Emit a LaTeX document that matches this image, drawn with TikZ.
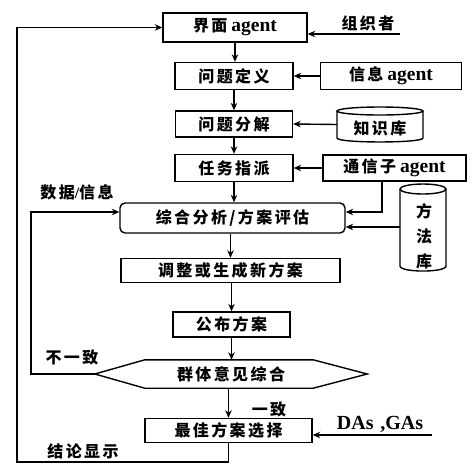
\documentclass[tikz,border=0pt]{standalone}
\usepackage{fontspec}
\setmainfont{Liberation Serif}
\newfontfamily\cjk[LetterSpace=15]{Noto Sans CJK SC}
\usetikzlibrary{arrows.meta}
\newcommand{\zh}[1]{{\cjk\bfseries #1}}
\newcommand{\ag}{{\fontsize{19.5}{19.5}\selectfont\bfseries agent}}
\tikzset{
  box/.style={draw, line width=1.4pt, inner sep=0pt, font=\fontsize{16}{16}\selectfont\bfseries},
  lbl/.style={inner sep=0pt, font=\fontsize{16}{16}\selectfont\bfseries},
  conn/.style={line width=1.4pt, -{Stealth[length=7.5pt,width=6.5pt]}},
  plain/.style={line width=1.4pt},
}
\begin{document}
\begin{tikzpicture}[x=1pt,y=-1pt]
\useasboundingbox (0,0) rectangle (474,464);
% main column
\node[box, minimum width=144pt, minimum height=29pt] (b1) at (235,27.5) {\zh{界面} \ag};
\node[box, minimum width=118pt, minimum height=27pt] (b2) at (234,76) {\zh{问题定义}};
\node[box, minimum width=117pt, minimum height=26pt] (b3) at (234,124) {\zh{问题分解}};
\node[box, minimum width=118pt, minimum height=27pt] (b4) at (234,168) {\zh{任务指派}};
\node[box, rounded corners=5pt, minimum width=225pt, minimum height=30pt] (b5) at (232.5,218) {\zh{综合分析/方案评估}};
\node[box, minimum width=219pt, minimum height=24pt] (b6) at (230.5,270.5) {\zh{调整或生成新方案}};
\node[box, minimum width=117pt, minimum height=25pt] (b7) at (231.5,324.5) {\zh{公布方案}};
\node[lbl, minimum width=272pt, minimum height=28pt] (hex) at (231,374) {\zh{群体意见综合}};
\draw[plain] (hex.west) -- ([xshift=50pt]hex.north west) -- ([xshift=-54pt]hex.north east)
  -- (hex.east) -- ([xshift=-54pt]hex.south east) -- ([xshift=50pt]hex.south west) -- cycle;
\node[box, minimum width=167pt, minimum height=24pt] (b8) at (228.5,430.5) {\zh{最佳方案选择}};
% side boxes
\node[box, minimum width=141pt, minimum height=27pt] (info) at (391,76) {\zh{信息} \ag};
\node[box, minimum width=143pt, minimum height=26pt] (comm) at (394.5,168) {\zh{通信子} \ag};
% knowledge cylinder
\draw[plain] (380,111) ellipse [x radius=43pt, y radius=4pt];
\draw[plain] (337,111) -- (337,138) .. controls (337,143.3) and (423,143.3) .. (423,138) -- (423,111);
\node[lbl, minimum width=86pt, minimum height=35pt] (kb) at (380,124.5) {};
\node[lbl] at (380,128) {\zh{知识库}};
% method cylinder
\draw[plain] (423,189) ellipse [x radius=23pt, y radius=5pt];
\draw[plain] (400,189) -- (400,266) .. controls (400,272.7) and (446,272.7) .. (446,266) -- (446,189);
\node[lbl, minimum width=46pt, minimum height=89pt] (mlk) at (423,227.5) {};
\node[lbl, align=center, font=\fontsize{16}{25}\selectfont\bfseries] at (424,236) {\zh{方}\\\zh{法}\\\zh{库}};
% free labels
\node[lbl] (torg) at (368,23) {\zh{组织者}};
\node[lbl] (tdata) at (77,192) {\zh{数据}/\zh{信息}};
\node[lbl] (tno) at (72,357) {\zh{不一致}};
\node[lbl] (tyes) at (269,409) {\zh{一致}};
\node[lbl, font=\fontsize{20}{20}\selectfont\bfseries] (tda) at (380,424) {DAs\,\,,GAs};
\node[lbl] (tres) at (83,451) {\zh{结论显示}};
% coordinates
\coordinate (og) at (400,34);
\coordinate (bl) at (17,462);
\coordinate (dl) at (31,374);
\coordinate (cv) at (382,212);
\coordinate (mm) at (400,227);
\coordinate (da) at (432,435);
% connectors
\draw[conn] (b1.south) -- (b1.south |- b2.north);
\draw[conn] (b2.south) -- (b2.south |- b3.north);
\draw[conn] (b3.south) -- (b3.south |- b4.north);
\draw[conn] (b4.south) -- (b4.south |- b5.north);
\draw[conn] (b6.north |- b5.south) -- (b6.north);
\draw[conn] (b7.north |- b6.south) -- (b7.north);
\draw[conn] (b7.south) -- (b7.south |- hex.north);
\draw[conn] (b8.north |- hex.south) -- (b8.north);
\draw[conn] (og) -- (og -| b1.east);
\draw[conn] (info.west) -- (b2.east);
\draw[conn] (kb.west) -- (b3.east);
\draw[conn] (comm.west) -- (b4.east);
\draw[conn] (comm.south -| cv) -- (cv) -- (cv -| b5.east);
\draw[conn] (mm) -- (mm -| b5.east);
\draw[conn] (da) -- (da -| b8.east);
\draw[conn] (hex.west) -- (dl) -- (dl |- cv) -- (cv -| b5.west);
\draw[conn] (b8.south) -- (b8.south |- bl) -- (bl) -- (bl |- b1.west) -- (b1.west);
\end{tikzpicture}
\end{document}
